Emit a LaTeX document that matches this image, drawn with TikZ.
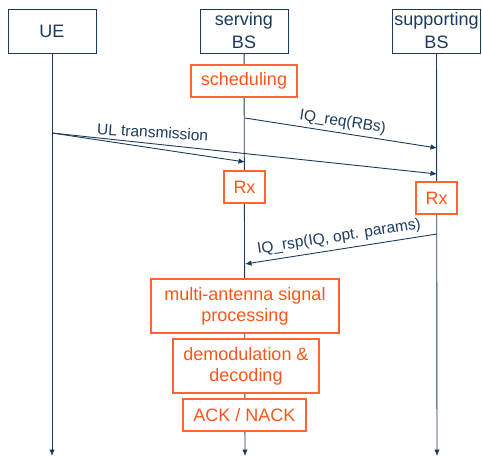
\documentclass[tikz,border=0pt]{standalone}
\usepackage{fontspec}
\setmainfont{Liberation Sans}
\setsansfont{Liberation Sans}
\usepackage{tikz}
\usetikzlibrary{positioning, backgrounds, arrows.meta}
\definecolor{navy}{RGB}{28,58,92}
\definecolor{orangetext}{RGB}{255,85,25}
\definecolor{orangeline}{RGB}{255,100,50}

\begin{document}
\begin{tikzpicture}[font=\sffamily\fontsize{18}{23}\selectfont,
                    x=1pt, y=-1pt,
                    >={Latex[length=6.5pt,width=5.5pt]},
                    entity/.style={draw=navy, text=navy, line width=1pt,
                                   fill=white, align=center,
                                   minimum width=88pt, minimum height=44pt,
                                   inner sep=1pt},
                    action/.style={draw=orangeline, text=orangetext,
                                   line width=1.2pt, fill=white, align=center,
                                   font=\sffamily\fontsize{18}{21}\selectfont,
                                   minimum height=32pt,
                                   inner xsep=9.5pt, inner ysep=1pt},
                    msg/.style={text=navy,
                                font=\sffamily\fontsize{15.5}{18}\selectfont}]
    \useasboundingbox (0,0) rectangle (482,458);

    % Add the entities
        \node[entity] (ue) at (52,31) {UE};
        \node[entity] (sv) at (244,31) {serving\\BS};
        \node[entity] (sp) at (436.5,31) {supporting\\BS};

    % Add the processing steps
        \node[action,
              minimum width=106pt] (sched) at (244,81) {scheduling};
        \node[action,
              minimum width=41pt] (rx1) at (244.5,187) {Rx};
        \node[action,
              minimum width=41pt] (rx2) at (436.5,198) {Rx};
        \node[action,
              minimum width=188pt,
              minimum height=54pt] (mimo) at (245,306) {multi-antenna signal\\processing};
        \node[action,
              minimum width=146pt,
              minimum height=54pt] (demod) at (246,366) {demodulation \&\\decoding};
        \node[action,
              minimum width=123pt] (ack) at (244.5,415) {ACK / NACK};

    % Message end points on the lifelines
        \coordinate (ue_end) at (52,456);
        \coordinate (sv_end) at (245,456);
        \coordinate (sp_end) at (437,456);
        \coordinate (req_sv) at (245,118);
        \coordinate (req_sp) at (437,148);
        \coordinate (ul_ue) at (52,133);
        \coordinate (ul_sv) at (245,162);
        \coordinate (ul_sp) at (437,174);
        \coordinate (rsp_sp) at (437,234);
        \coordinate (rsp_sv) at (245,264);

    \begin{pgfonlayer}{background}
        \path[every edge/.append style={->, draw=navy, line width=0.9pt}]
            (ue) edge (ue_end)
            (sv) edge (sv_end)
            (sp) edge (sp_end);
    \end{pgfonlayer}

    \path[every edge/.append style={->, draw=navy, line width=0.9pt}]
            (req_sv) edge node[msg, above, sloped, pos=0.5] {IQ\_req(RBs)} (req_sp)
            (ul_ue) edge (ul_sv)
            (ul_ue) edge node[msg, above=2pt, rotate=-3.5, pos=0.26] {UL transmission} (ul_sp)
            (rsp_sv) edge[<-] node[msg, above=1pt, sloped, pos=0.5] {IQ\_rsp(IQ, opt. params)} (rsp_sp)
            ;
\end{tikzpicture}
\end{document}
